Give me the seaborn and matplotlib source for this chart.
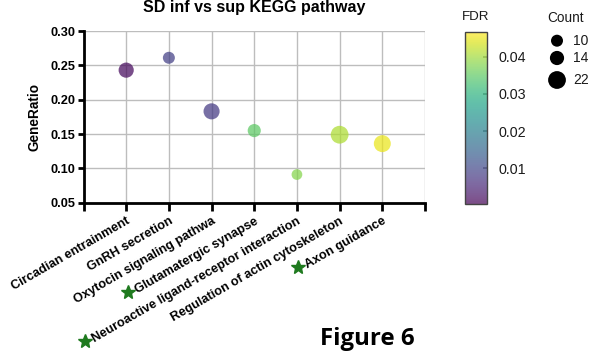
import matplotlib
matplotlib.use("Agg")
import matplotlib.pyplot as plt
from matplotlib.lines import Line2D
from matplotlib.colors import Normalize
from matplotlib.cm import ScalarMappable
import seaborn as sns
import pandas as pd
import numpy as np

# KEGG enrichment results
pathways = [
    "Circadian entrainment",
    "GnRH secretion",
    "Oxytocin signaling pathwa",
    "Glutamatergic synapse",
    "Neuroactive ligand-receptor interaction",
    "Regulation of actin cytoskeleton",
    "Axon guidance",
]
gene_ratio = [0.243, 0.261, 0.183, 0.155, 0.091, 0.149, 0.136]
gene_count = [16, 10, 18, 12, 8, 22, 20]
fdr = [0.0015, 0.009, 0.008, 0.035, 0.038, 0.041, 0.045]
starred = [False, False, False, True, True, False, True]

count_legend = [10, 14, 22]
fdr_ticks = [0.01, 0.02, 0.03, 0.04]
ratio_ticks = [0.05, 0.10, 0.15, 0.20, 0.25, 0.30]

df = pd.DataFrame({"Pathway": pathways, "GeneRatio": gene_ratio,
                   "Count": gene_count, "FDR": fdr})

sns.set_theme(style="white")
plt.rcParams["font.family"] = ["Liberation Sans", "DejaVu Sans"]
plt.rcParams["text.color"] = "black"
plt.rcParams["axes.labelcolor"] = "black"

W, H = 590, 351
fig = plt.figure(figsize=(W / 100, H / 100), dpi=100)
ax = fig.add_axes([83.5 / W, 1 - 202.7 / H, (425 - 83.5) / W, (202.7 - 31) / H])

fdr_norm = Normalize(0.0004, 0.0466)
cmap = plt.get_cmap("viridis")
size_max = 164.0
size_norm = (0, 22)

def marker_area(c):
    return size_max * np.asarray(c, dtype=float) / size_norm[1]

sns.scatterplot(data=df, x="Pathway", y="GeneRatio", hue="FDR", size="Count",
                palette="viridis", hue_norm=fdr_norm, sizes=(0, size_max),
                size_norm=size_norm, alpha=0.72, linewidth=0, legend=False,
                ax=ax, zorder=3)

ax.set_xlim(-1, 7)
ax.set_ylim(0.05, 0.30)
ax.set_xticks(range(-1, 8))
ax.set_xticklabels([""] + pathways + [""], rotation=30, ha="right",
                   rotation_mode="anchor", fontsize=9.2, fontweight="bold")
ax.set_yticks(ratio_ticks)
ax.set_yticklabels([f"{v:.2f}" for v in ratio_ticks], fontsize=9.2,
                   fontweight="bold")
ax.set_xlabel("")
ax.set_ylabel("GeneRatio", fontsize=9.8, fontweight="bold", labelpad=6,
              color="black")
ax.grid(True, color="#bdbdbd", linewidth=1)
ax.set_axisbelow(True)
for s in ["top", "right"]:
    ax.spines[s].set_visible(False)
for s in ["left", "bottom"]:
    ax.spines[s].set_color("black")
    ax.spines[s].set_linewidth(2)
ax.tick_params(axis="y", length=4, width=2, color="black", pad=2,
               left=True, labelcolor="black")
ax.tick_params(axis="x", length=6, width=2, color="black", pad=3,
               bottom=True, labelcolor="black")

# title at the top edge
fig.text((83.5 + 425) / 2 / W, 1 - 12 / H, "SD inf vs sup KEGG pathway",
         ha="center", va="baseline", fontsize=11.5, fontweight="bold",
         color="black")

# FDR colour bar
cax = fig.add_axes([465 / W, 1 - 204 / H, 22 / W, 171.7 / H])
sm = ScalarMappable(norm=fdr_norm, cmap=cmap)
cb = fig.colorbar(sm, cax=cax, alpha=0.7)
cb.set_ticks(fdr_ticks)
cb.set_ticklabels([f"{v:.2f}" for v in fdr_ticks])
cb.ax.tick_params(direction="in", length=3, color="#888888", labelsize=10.3,
                  labelcolor="#1a1a1a", pad=8)
cb.outline.set_edgecolor("#444444")
cb.outline.set_linewidth(1)
fig.text(476 / W, 1 - 17.5 / H, "FDR", ha="center", va="center", fontsize=9.6,
         color="#1a1a1a")

# Count size legend drawn in pixel coordinates
lax = fig.add_axes([0, 0, 1, 1], zorder=-1)
lax.set_xlim(0, W)
lax.set_ylim(H, 0)
lax.axis("off")
leg_y = [40.7, 58, 80]
lax.scatter([557] * 3, leg_y, s=marker_area(count_legend), color="black",
            linewidth=0)
for yv, c in zip(leg_y, count_legend):
    lax.text(573, yv, str(c), ha="left", va="center", fontsize=10,
             color="#1a1a1a")
lax.text(566, 17.5, "Count", ha="center", va="center", fontsize=9.8,
         color="#1a1a1a")

fig.text(320 / W, 1 - 345 / H, "Figure 6", ha="left", va="baseline",
         fontsize=17.3, fontweight="bold", family="Open Sans", color="black")

# green stars in front of highlighted pathways
fig.canvas.draw()
renderer = fig.canvas.get_renderer()
labels = ax.get_xticklabels()[1:-1]
for lab, st in zip(labels, starred):
    if not st:
        continue
    bb = lab.get_window_extent(renderer)
    fx = (bb.x0 - 5) / W
    fy = (bb.y0 + 4) / H
    fig.add_artist(Line2D([fx], [fy], marker="*", markersize=10,
                          color="#1f7a1f", linestyle="none",
                          transform=fig.transFigure))

fig.savefig("out.png", dpi=100)
